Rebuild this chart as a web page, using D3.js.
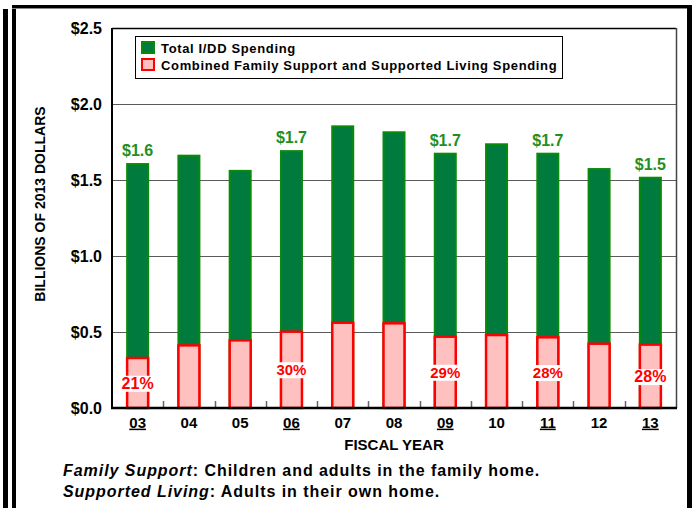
<!DOCTYPE html>
<html>
<head>
<meta charset="utf-8">
<script src="https://cdn.jsdelivr.net/npm/d3@7"></script>
<style>
  html, body { margin: 0; padding: 0; background: #fff; }
  svg { display: block; font-family: "Liberation Sans", Arial, sans-serif; font-weight: bold; }
</style>
</head>
<body>
<svg id="chart" width="692" height="508"></svg>
<script>
// ---- data ----
const years = ["03", "04", "05", "06", "07", "08", "09", "10", "11", "12", "13"];
const totalSpending = [1.605, 1.66, 1.56, 1.69, 1.853, 1.814, 1.673, 1.735, 1.673, 1.572, 1.515];
const familySupportSpending = [0.329, 0.412, 0.445, 0.502, 0.561, 0.557, 0.469, 0.480, 0.465, 0.423, 0.417];
const totalLabels = ["$1.6", "", "", "$1.7", "", "", "$1.7", "", "$1.7", "", "$1.5"];
const percentLabels = ["21%", "", "", "30%", "", "", "29%", "", "28%", "", "28%"];
const underlinedYears = ["03", "06", "09", "11", "13"];
const yTicks = [0, 0.5, 1.0, 1.5, 2.0, 2.5];
const legendLabels = ["Total I/DD Spending", "Combined Family Support and Supported Living Spending"];

// ---- layout ----
const svg = d3.select("#chart");
const plot = { left: 112, right: 676, top: 28, bottom: 408 };

const x = d3.scaleBand().domain(years).range([plot.left, plot.right]).paddingInner(0).paddingOuter(0);
const y = d3.scaleLinear().domain([0, 2.5]).range([plot.bottom, plot.top]);

const green = "#007a3d", greenStroke = "#0a8a0a", greenText = "#1f8f1f";
const pink = "#ffc0c0", red = "#ff0000";

svg.append("rect").attr("width", 692).attr("height", 508).attr("fill", "#fff");

// outer frame
svg.append("rect").attr("x", 3).attr("y", 9).attr("width", 5).attr("height", 499).attr("fill", "#000");
svg.append("rect").attr("x", 12).attr("y", 5).attr("width", 4).attr("height", 503).attr("fill", "#000");
svg.append("rect").attr("x", 12).attr("y", 5).attr("width", 680).attr("height", 3).attr("fill", "#000");
svg.append("rect").attr("x", 12).attr("y", 8).attr("width", 675).attr("height", 1).attr("fill", "#888");
svg.append("rect").attr("x", 687).attr("y", 5).attr("width", 5).attr("height", 503).attr("fill", "#000");

// gridlines
const grid = svg.append("g");
grid.selectAll("line").data(yTicks.filter(d => d > 0 && d < 2.5)).join("line")
  .attr("x1", plot.left).attr("x2", plot.right)
  .attr("y1", d => Math.round(y(d)) + 0.5).attr("y2", d => Math.round(y(d)) + 0.5)
  .attr("stroke", "#5a5a5a").attr("stroke-width", 1);

// plot frame top & right
svg.append("line").attr("x1", plot.left).attr("x2", plot.right).attr("y1", plot.top + 0.5).attr("y2", plot.top + 0.5)
  .attr("stroke", "#000").attr("stroke-width", 1.5);
svg.append("line").attr("x1", plot.right + 0.5).attr("x2", plot.right + 0.5).attr("y1", plot.top).attr("y2", plot.bottom)
  .attr("stroke", "#444").attr("stroke-width", 1.5);

// bars
const barW = 21;
const bars = svg.append("g");
years.forEach((yr, i) => {
  const cx = x(yr) + x.bandwidth() / 2;
  bars.append("rect")
    .attr("x", cx - barW / 2).attr("width", barW)
    .attr("y", y(totalSpending[i])).attr("height", y(0) - y(totalSpending[i]))
    .attr("fill", green).attr("stroke", greenStroke).attr("stroke-width", 2);
  bars.append("rect")
    .attr("x", cx - barW / 2).attr("width", barW)
    .attr("y", y(familySupportSpending[i])).attr("height", y(0) - y(familySupportSpending[i]))
    .attr("fill", pink).attr("stroke", red).attr("stroke-width", 2.5);
});

// ticks between bars
const tickG = svg.append("g");
tickG.selectAll("line").data(years.slice(1)).join("line")
  .attr("x1", d => Math.round(x(d)) + 0.5).attr("x2", d => Math.round(x(d)) + 0.5)
  .attr("y1", plot.bottom - 7).attr("y2", plot.bottom)
  .attr("stroke", "#666").attr("stroke-width", 1.5);

// axes lines
svg.append("line").attr("x1", plot.left).attr("x2", plot.left).attr("y1", plot.top).attr("y2", plot.bottom + 1)
  .attr("stroke", "#000").attr("stroke-width", 2);
svg.append("line").attr("x1", plot.left - 1).attr("x2", plot.right + 1).attr("y1", plot.bottom).attr("y2", plot.bottom)
  .attr("stroke", "#000").attr("stroke-width", 2.5);

// y tick labels
const yAxis = d3.axisLeft(y).tickValues(yTicks).tickSize(0).tickPadding(10).tickFormat(d => "$" + d3.format(".1f")(d));
const yg = svg.append("g").attr("transform", `translate(${plot.left},0)`).call(yAxis);
yg.select(".domain").remove();
yg.selectAll("text").attr("font-size", 16).attr("font-weight", "bold").attr("fill", "#000")
  .attr("font-family", "Liberation Sans, Arial, sans-serif");

// x tick labels
const xAxis = d3.axisBottom(x).tickSize(0).tickPadding(9);
const xg = svg.append("g").attr("transform", `translate(0,${plot.bottom})`).call(xAxis);
xg.select(".domain").remove();
xg.selectAll("text").attr("font-size", 15).attr("font-weight", "bold").attr("fill", "#000")
  .attr("font-family", "Liberation Sans, Arial, sans-serif")
  .style("text-decoration", d => underlinedYears.includes(d) ? "underline" : "none");

// total labels
svg.append("g").selectAll("text").data(years.filter((d, i) => totalLabels[i])).join("text")
  .attr("x", d => x(d) + x.bandwidth() / 2)
  .attr("y", d => y(totalSpending[years.indexOf(d)]) - 8)
  .attr("text-anchor", "middle").attr("font-size", 16).attr("fill", greenText)
  .text(d => totalLabels[years.indexOf(d)]);

// percent labels with white boxes
const pg = svg.append("g");
years.forEach((yr, i) => {
  if (!percentLabels[i]) return;
  const cx = x(yr) + x.bandwidth() / 2;
  const cy = (y(0) + y(familySupportSpending[i])) / 2;
  const fs = (i === 0 || i === 10) ? 16 : 15;
  const g = pg.append("g");
  const t = g.append("text").attr("x", cx).attr("y", cy).attr("dy", "0.36em")
    .attr("text-anchor", "middle").attr("font-size", fs).attr("fill", red).text(percentLabels[i]);
  const bb = t.node().getBBox();
  g.insert("rect", "text").attr("x", bb.x - 1).attr("y", bb.y + 1).attr("width", bb.width + 2).attr("height", bb.height - 1)
    .attr("fill", "#fff");
});

// axis titles
svg.append("text").attr("transform", `translate(45,204) rotate(-90)`)
  .attr("text-anchor", "middle").attr("font-size", 14).text("BILLIONS OF 2013 DOLLARS");
svg.append("text").attr("x", (plot.left + plot.right) / 2).attr("y", 450)
  .attr("text-anchor", "middle").attr("font-size", 15).text("FISCAL YEAR");

// legend
const lg = svg.append("g");
lg.append("rect").attr("x", 135.5).attr("y", 36.5).attr("width", 427).attr("height", 42)
  .attr("fill", "#fff").attr("stroke", "#000").attr("stroke-width", 1);
const swatches = [{ fill: green, stroke: greenStroke }, { fill: pink, stroke: red }];
legendLabels.forEach((lab, i) => {
  const yy = 41 + i * 17;
  lg.append("rect").attr("x", 142).attr("y", yy + 1).attr("width", 12).attr("height", 11)
    .attr("fill", swatches[i].fill).attr("stroke", swatches[i].stroke).attr("stroke-width", 2);
  lg.append("text").attr("x", 161).attr("y", yy + 11.5).attr("font-size", 13).attr("letter-spacing", 0.65)
    .text(lab);
});

// footnotes
const notes = [["Family Support", ": Children and adults in the family home."],
               ["Supported Living", ": Adults in their own home."]];
notes.forEach((n, i) => {
  const t = svg.append("text").attr("x", 63).attr("y", 476 + i * 21).attr("font-size", 16).attr("letter-spacing", 0.95);
  t.append("tspan").attr("font-style", "italic").text(n[0]);
  t.append("tspan").text(n[1]);
});
</script>
</body>
</html>
